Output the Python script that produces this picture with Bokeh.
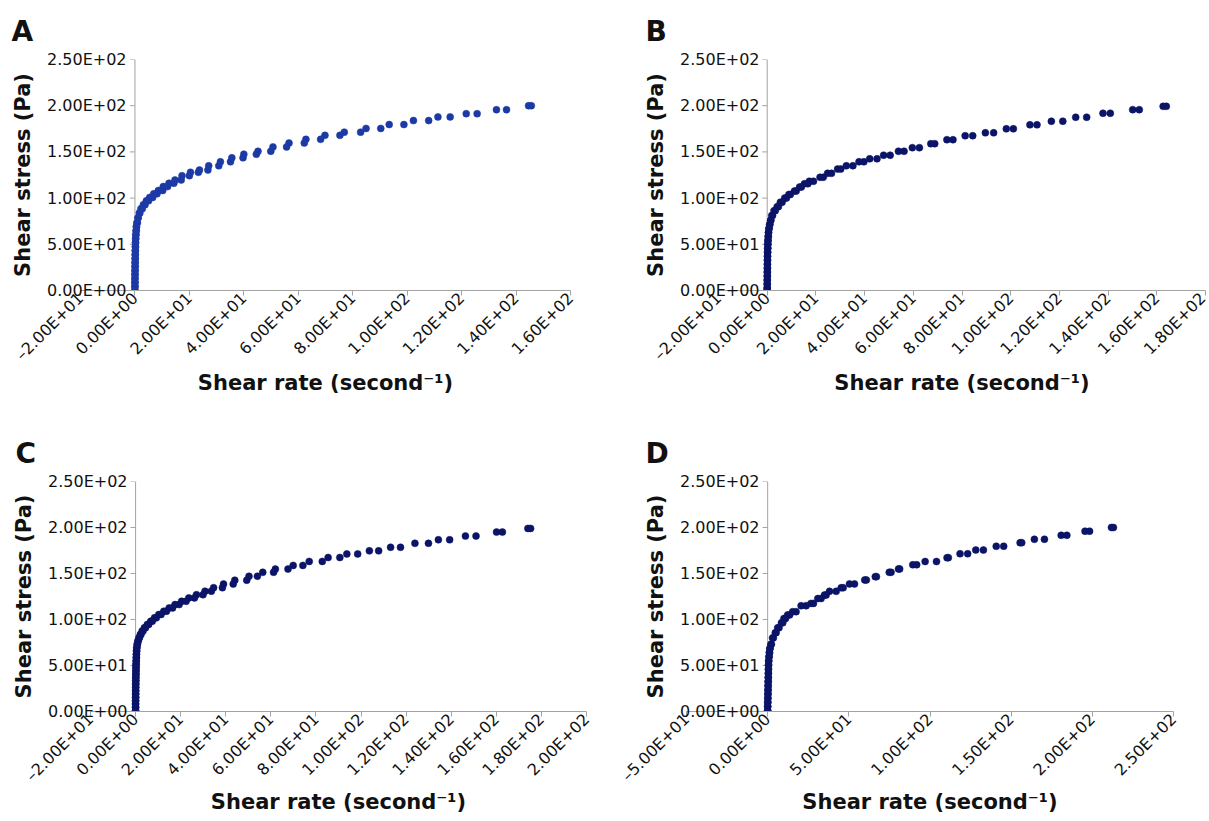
from math import pi
from bokeh.plotting import figure
from bokeh.models import FixedTicker, ColumnDataSource
from bokeh.layouts import row, column
from bokeh.embed import file_html
from bokeh.resources import INLINE

# ---------------- data ----------------
y_ticks = [0, 50, 100, 150, 200, 250]
y_labels = ["0.00E+00", "5.00E+01", "1.00E+02", "1.50E+02", "2.00E+02", "2.50E+02"]

ax_ticks = [-20, 0, 20, 40, 60, 80, 100, 120, 140, 160]
ax_labels = ["\u20132.00E+01", "0.00E+00", "2.00E+01", "4.00E+01", "6.00E+01", "8.00E+01",
             "1.00E+02", "1.20E+02", "1.40E+02", "1.60E+02"]
bx_ticks = [-20, 0, 20, 40, 60, 80, 100, 120, 140, 160, 180]
bx_labels = ax_labels + ["1.80E+02"]
cx_ticks = [-20, 0, 20, 40, 60, 80, 100, 120, 140, 160, 180, 200]
cx_labels = bx_labels + ["2.00E+02"]
dx_ticks = [-50, 0, 50, 100, 150, 200, 250]
dx_labels = ["\u20135.00E+01", "0.00E+00", "5.00E+01", "1.00E+02", "1.50E+02", "2.00E+02", "2.50E+02"]

# Panel A: stress levels (Pa) and the two shear rates measured at each level
A_stress = [200.0, 195.7, 191.4, 187.9, 183.9, 179.6, 175.4, 171.4, 167.9, 163.6, 159.6, 155.4,
            150.7, 147.5, 143.6, 139.3, 135.0, 130.4, 127.9, 124.3, 119.6, 116.1, 112.5, 108.2,
            104.6, 100.7, 97.1, 92.9, 88.6, 83.9, 78.6, 73.2, 69.0, 64.6, 60.3, 56.0, 51.7, 47.4,
            43.1, 38.8, 34.5, 30.2, 25.9, 21.6, 17.3, 13.0, 8.7, 4.4, 0.1]
A_rate1 = [144.6, 132.8, 121.7, 111.3, 102.3, 93.4, 84.9, 76.9, 69.8, 62.8, 56.6, 50.7,
           45.2, 40.0, 35.6, 31.4, 27.1, 23.7, 20.4, 17.3, 14.7, 12.5, 10.4, 8.6,
           6.9, 5.4, 4.2, 3.1, 2.2, 1.6, 1.1, 0.7, 0.5, 0.4, 0.3, 0.25, 0.2, 0.15,
           0.12, 0.1, 0.08, 0.06, 0.05, 0.03, 0.02, 0.01, 0.0, 0.0, 0.0]
A_rate2 = [145.6, 136.5, 125.7, 115.8, 107.9, 98.8, 90.3, 82.9, 75.3, 68.2, 62.2, 55.7,
           49.9, 44.6, 39.7, 35.1, 30.8, 26.8, 23.3, 20.0, 17.0, 14.3, 12.0, 10.2,
           8.1, 6.5, 5.0, 3.7, 2.7, 1.8, 1.2, 0.9, 0.6, 0.5, 0.4, 0.3, 0.25, 0.2,
           0.15, 0.12, 0.1, 0.08, 0.06, 0.05, 0.03, 0.02, 0.01, 0.0, 0.0]

# Panel B
B_stress = [199.3, 195.7, 191.8, 187.5, 183.2, 179.3, 175.0, 170.7, 167.5, 163.2, 158.9, 154.6,
            150.7, 146.4, 142.5, 139.3, 135.0, 131.4, 126.8, 122.5, 118.2, 115.5, 111.9, 107.6,
            103.9, 100.0, 95.5, 90.7, 86.4, 81.2, 75.9, 71.5, 67.0, 62.8, 58.5, 54.2, 50.0, 45.7,
            41.4, 37.1, 32.8, 28.5, 24.2, 19.9, 15.6, 11.3, 7.0, 2.7, 0.0]
B_rate1 = [162.6, 150.1, 137.9, 126.7, 116.7, 107.9, 98.2, 89.6, 81.3, 73.8, 67.2, 59.6,
           53.9, 47.8, 42.1, 37.7, 32.5, 28.9, 24.8, 21.7, 17.3, 15.3, 13.3, 11.2,
           8.9, 7.2, 5.4, 4.1, 2.8, 1.9, 1.4, 1.0, 0.7, 0.5, 0.4, 0.3, 0.25, 0.2,
           0.15, 0.12, 0.1, 0.08, 0.06, 0.04, 0.03, 0.02, 0.01, 0.0, 0.0]
B_rate2 = [163.9, 152.8, 140.9, 131.2, 121.4, 110.8, 101.1, 93.0, 84.4, 76.3, 68.8, 62.5,
           56.2, 50.5, 45.1, 39.7, 35.2, 30.2, 26.4, 23.0, 19.0, 16.7, 14.0, 11.9,
           9.5, 7.9, 6.1, 4.6, 3.3, 2.2, 1.5, 1.1, 0.8, 0.6, 0.45, 0.35, 0.3, 0.25,
           0.2, 0.15, 0.12, 0.1, 0.08, 0.06, 0.04, 0.03, 0.02, 0.01, 0.0]

# Panel C
C_stress = [199.0, 195.0, 190.7, 186.7, 182.8, 178.5, 174.6, 171.3, 167.4, 163.1, 158.8, 154.8,
            151.3, 147.0, 142.7, 138.5, 134.6, 130.8, 127.0, 123.5, 119.8, 116.2, 112.6, 109.0,
            105.4, 101.8, 98.2, 94.6, 91.0, 87.4, 83.8, 80.2, 76.6, 73.0, 69.4, 65.8, 62.2, 58.6,
            55.0, 51.4, 47.8, 44.2, 40.6, 37.0, 33.4, 29.8, 26.2, 22.6, 19.0, 15.4, 11.8, 8.2,
            4.6, 1.0]
C_rate1 = [174.0, 160.1, 146.3, 134.3, 123.9, 113.1, 103.7, 93.7, 85.4, 77.0, 69.9, 62.0,
           56.4, 50.3, 44.0, 39.0, 34.6, 30.8, 27.0, 23.6, 20.4, 17.5, 14.9, 12.5,
           10.3, 8.4, 6.7, 5.2, 3.9, 2.9, 2.1, 1.5, 1.0, 0.7, 0.5, 0.4, 0.35, 0.3,
           0.25, 0.2, 0.18, 0.15, 0.12, 0.1, 0.08, 0.06, 0.05, 0.04, 0.03, 0.02, 0.01, 0.0,
           0.0, 0.0]
C_rate2 = [175.2, 162.7, 151.0, 139.3, 129.9, 117.5, 107.8, 98.5, 90.6, 82.8, 74.2, 67.6,
           61.2, 54.0, 49.3, 43.3, 38.5, 33.6, 29.9, 26.1, 22.4, 19.3, 16.4, 13.7,
           11.3, 9.2, 7.4, 5.8, 4.4, 3.3, 2.4, 1.7, 1.2, 0.8, 0.6, 0.5, 0.4, 0.35,
           0.3, 0.25, 0.2, 0.18, 0.15, 0.12, 0.1, 0.08, 0.06, 0.05, 0.04, 0.03, 0.02, 0.01,
           0.0, 0.0]

# Panel D
D_stress = [200.0, 196.0, 191.5, 187.2, 183.5, 179.6, 175.5, 171.5, 167.2, 163.0, 159.5, 155.0,
            151.3, 146.6, 143.0, 138.7, 134.5, 130.6, 126.5, 122.8, 117.5, 115.0, 108.5, 105.0,
            101.0, 96.4, 91.0, 85.6, 80.0, 73.0, 68.5, 64.0, 59.5, 55.0, 50.5, 46.0, 41.5, 37.0,
            32.5, 28.0, 23.5, 19.0, 14.5, 10.0, 5.5, 1.0]
D_rate1 = [211.8, 195.5, 180.8, 164.3, 155.5, 140.8, 128.2, 118.5, 110.5, 97.0, 89.4, 80.6,
           74.9, 66.3, 59.8, 50.4, 45.3, 38.1, 35.0, 30.9, 26.7, 20.6, 15.4, 12.3,
           10.0, 8.5, 6.2, 4.7, 3.0, 2.0, 1.3, 1.0, 0.8, 0.6, 0.5, 0.45, 0.4, 0.35,
           0.3, 0.25, 0.2, 0.15, 0.1, 0.05, 0.02, 0.0]
D_rate2 = [213.0, 198.3, 184.3, 170.5, 156.5, 145.4, 132.9, 123.2, 111.3, 104.0, 91.8, 81.3,
           76.0, 67.0, 60.8, 53.5, 46.5, 42.2, 36.0, 32.9, 28.2, 23.7, 17.5, 13.5,
           11.0, 9.3, 7.0, 5.2, 3.5, 2.3, 1.5, 1.2, 0.9, 0.7, 0.6, 0.5, 0.45, 0.4,
           0.35, 0.3, 0.25, 0.2, 0.15, 0.1, 0.05, 0.02]

# ---------------- styling ----------------
AXIS_GREY = "#a3a3a3"
TEXT = "#111111"
FONT = "DejaVu Sans"
COLOR_A = "#1c3aa6"
COLOR_NAVY = "#0b1467"


def make_panel(letter, stress, rate1, rate2, xticks, xlabels, color,
               width, height, bl, br, bt, bb, title_offset, xlab_standoff):
    p = figure(width=width, height=height,
               x_range=(xticks[0], xticks[-1]), y_range=(y_ticks[0], y_ticks[-1]),
               output_backend="svg", toolbar_location=None,
               min_border_left=bl, min_border_right=br,
               min_border_top=bt, min_border_bottom=bb)
    p.background_fill_color = "white"
    p.border_fill_color = "white"
    p.outline_line_color = None
    p.xgrid.visible = False
    p.ygrid.visible = False

    # panel letter
    p.title.text = letter
    p.title.text_font = FONT
    p.title.text_font_size = "28px"
    p.title.text_font_style = "bold"
    p.title.text_color = TEXT
    p.title.align = "left"
    p.title.offset = title_offset
    p.title.standoff = 24

    # pixel distance from the left edge of the plot area to shear rate 0
    frame_w = width - bl - br
    zero_px = round((0 - xticks[0]) / (xticks[-1] - xticks[0]) * frame_w)

    # left axis: its labels are pulled in so that they sit beside the zero line
    ya = p.yaxis[0]
    ya.ticker = FixedTicker(ticks=y_ticks)
    ya.major_label_overrides = {t: lab for t, lab in zip(y_ticks, y_labels)}
    ya.axis_line_color = None
    ya.major_tick_line_color = None
    ya.minor_tick_line_color = None
    ya.major_tick_out = 0
    ya.major_tick_in = 0
    ya.major_label_standoff = -(zero_px - 8)
    ya.major_label_text_font = FONT
    ya.major_label_text_font_size = "16px"
    ya.major_label_text_color = TEXT
    ya.axis_label = "Shear stress (Pa)"
    ya.axis_label_text_font = FONT
    ya.axis_label_text_font_size = "21px"
    ya.axis_label_text_font_style = "bold"
    ya.axis_label_text_color = TEXT
    ya.axis_label_standoff = 9

    # the value axis line and its ticks, at shear rate 0
    p.segment(x0=[0], y0=[y_ticks[0]], x1=[0], y1=[y_ticks[-1]],
              line_color=AXIS_GREY, line_width=1)
    p.ray(x=[0] * len(y_ticks), y=y_ticks, length=5, length_units="screen",
          angle=pi, line_color=AXIS_GREY, line_width=1)

    # bottom axis
    xa = p.xaxis[0]
    xa.ticker = FixedTicker(ticks=xticks)
    xa.major_label_overrides = {t: lab for t, lab in zip(xticks, xlabels)}
    xa.major_label_orientation = pi / 4
    xa.major_label_text_font = FONT
    xa.major_label_text_font_size = "16px"
    xa.major_label_text_color = TEXT
    xa.major_label_standoff = 0
    xa.axis_line_color = AXIS_GREY
    xa.major_tick_line_color = AXIS_GREY
    xa.minor_tick_line_color = None
    xa.major_tick_out = 5
    xa.major_tick_in = 0
    xa.axis_label = "Shear rate (second\u207b\u00b9)"
    xa.axis_label_text_font = FONT
    xa.axis_label_text_font_size = "21px"
    xa.axis_label_text_font_style = "bold"
    xa.axis_label_text_color = TEXT
    xa.axis_label_standoff = xlab_standoff

    # data points
    src = ColumnDataSource(data=dict(rate=list(rate1) + list(rate2),
                                     stress=list(stress) + list(stress)))
    p.scatter(x="rate", y="stress", source=src, size=7,
              fill_color=color, line_color=color, line_width=0.5)
    return p


pA = make_panel("A", A_stress, A_rate1, A_rate2, ax_ticks, ax_labels, COLOR_A,
                600, 410, 80, 30, 59, 120, -69, -3)
pB = make_panel("B", B_stress, B_rate1, B_rate2, bx_ticks, bx_labels, COLOR_NAVY,
                609, 410, 118, 4, 59, 120, -73, -3)
pC = make_panel("C", C_stress, C_rate1, C_rate2, cx_ticks, cx_labels, COLOR_NAVY,
                600, 410, 90, 14, 71, 109, -75, -5)
pD = make_panel("D", D_stress, D_rate1, D_rate2, dx_ticks, dx_labels, COLOR_NAVY,
                609, 410, 86, 36, 71, 109, -41, -5)

layout = column(row(pA, pB), row(pC, pD))

with open("out.html", "w") as f:
    f.write(file_html(layout, INLINE))
